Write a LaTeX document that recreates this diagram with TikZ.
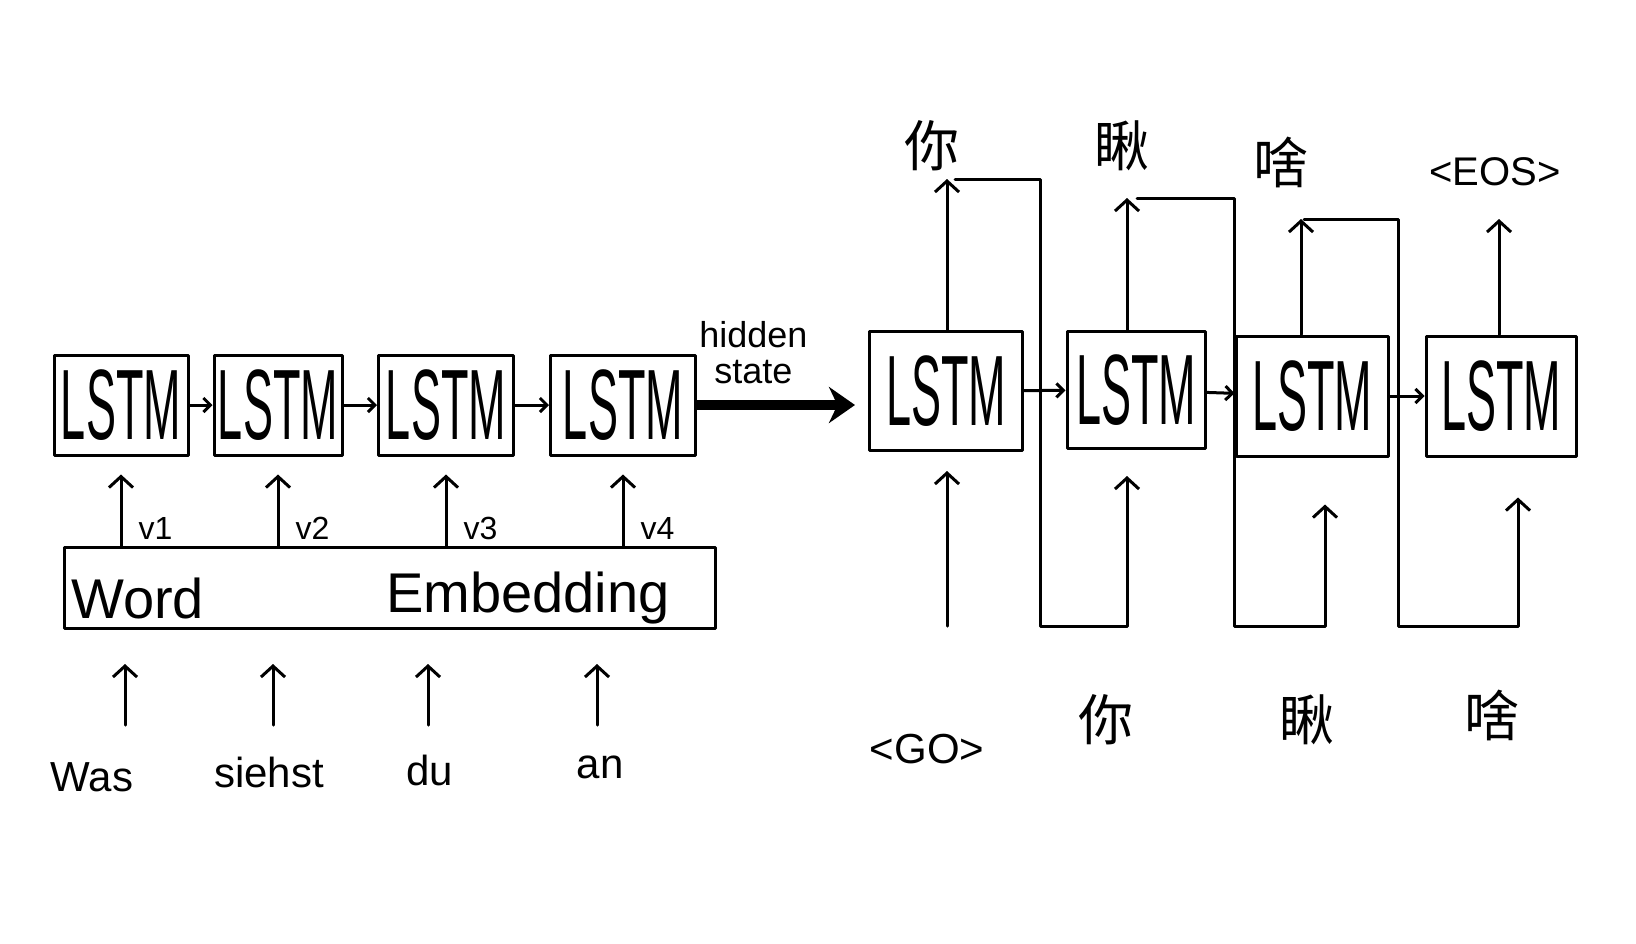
\documentclass[tikz,border=0pt]{standalone}
\usepackage{fontspec}
\setmainfont{Liberation Sans}
\newfontfamily\cjk{Noto Sans CJK SC}
\newfontfamily\narrowfont[FakeStretch=0.45]{Liberation Sans}
\usetikzlibrary{arrows.meta,calc,positioning}

\def\lstmtext{{\fontsize{100}{100}\selectfont\narrowfont LSTM}}

\tikzset{
  stroke/.style={line width=3pt, line cap=round, line join=round},
  lstmbox/.style={stroke, draw, inner sep=0pt, minimum height=100pt},
  upto/.style={stroke, -{Straight Barb[length=11pt,width=24pt]}},
  chain/.style={stroke, -{Straight Barb[length=7pt,width=14pt]}},
  wordlbl/.style={inner sep=0pt, font=\fontsize{42}{42}\selectfont},
  embtxt/.style={inner sep=0pt, font=\fontsize{56}{56}\selectfont},
  vlbl/.style={inner sep=0pt, font=\fontsize{32}{32}\selectfont},
  cjklbl/.style={inner sep=0pt, font=\fontsize{55}{55}\selectfont\cjk},
}

\begin{document}
\begin{tikzpicture}[x=1pt,y=-1pt]
\useasboundingbox (0,0) rectangle (1636,943);

% encoder
\node[lstmbox, minimum width=134pt] (e1) at (121,405) {\lstmtext};
\node[lstmbox, minimum width=128pt] (e2) at (278,405) {\lstmtext};
\node[lstmbox, minimum width=135pt] (e3) at (446,405) {\lstmtext};
\node[lstmbox, minimum width=145pt] (e4) at (623,405) {\lstmtext};
\draw[chain] (e1) -- (e2);
\draw[chain] (e2) -- (e3);
\draw[chain] (e3) -- (e4);

\node[stroke, draw, minimum width=651pt, minimum height=81pt, inner sep=0pt] (emb) at (390,588) {};
\node[embtxt, anchor=west] (word) at ([xshift=8pt,yshift=-10pt]emb.west) {Word};
\node[embtxt, anchor=west] (embed) at (386,598) {Embedding};

\foreach \i in {1,...,4}
  \draw[upto, shorten >=18pt] (e\i.south |- emb.north) -- (e\i.south)
    node[vlbl, pos=0, anchor=south west, xshift=16pt, yshift=5pt] {v\i};

\node[wordlbl] (w1) at (92,777) {Was};
\node[wordlbl] (w2) at (269,772) {siehst};
\node[wordlbl] (w3) at (430,770) {du};
\node[wordlbl] (w4) at (600,767) {an};
\foreach \i/\x in {1/125,2/273,3/428,4/597} {
  \coordinate (in\i) at (\x,725);
  \draw[upto, shorten >=34pt] (in\i) -- (in\i |- emb.south);
}

% decoder
\node[lstmbox, minimum width=153pt, minimum height=119pt] (d1) at (946,391) {\lstmtext};
\node[lstmbox, minimum width=138pt, minimum height=117pt] (d2) at (1136,390) {\lstmtext};
\node[lstmbox, minimum width=152pt, minimum height=120pt] (d3) at (1312,396) {\lstmtext};
\node[lstmbox, minimum width=150pt, minimum height=120pt] (d4) at (1501,396) {\lstmtext};
\draw[chain] (d1) -- (d2);
\draw[chain] (d2) -- (d3);
\draw[chain] (d3) -- (d4);

\draw[line width=10pt, -{Stealth[length=26pt,width=36pt]}, shorten >=13pt]
  (e4.east) -- (e4.east -| d1.west)
  node[pos=0.33, above=16pt, align=center, inner sep=0pt,
       font=\fontsize{36}{36}\selectfont] (hid) {hidden\\state};

\node[cjklbl] (o1) at (932,146) {你};
\node[cjklbl] (o2) at (1122,146) {瞅};
\node[cjklbl] (o3) at (1281,162) {啥};
\node[wordlbl, font=\fontsize{40}{40}\selectfont] (o4) at (1495,172) {<EOS>};

\node[wordlbl] (go) at (927,749) {<GO>};
\node[cjklbl] (i2) at (1106,720) {你};
\node[cjklbl] (i3) at (1307,720) {瞅};
\node[cjklbl] (i4) at (1492,715) {啥};

\foreach \i/\x/\y in {1/947/179,2/1127/198,3/1301/219,4/1499/219} {
  \coordinate (top\i) at (\x,\y);
  \draw[upto] (top\i |- d\i.north) -- (top\i);
}
\foreach \i/\x/\s in {1/947/19,2/1127/26,3/1325/47,4/1518/40} {
  \coordinate (bot\i) at (\x,626);
  \draw[upto, shorten >=\s pt] (bot\i) -- (bot\i |- d\i.south);
}

% feed back
\coordinate (g1) at (1040,0);
\coordinate (g2) at (1234,0);
\coordinate (g3) at (1398,0);
\draw[stroke] ([xshift=8pt]top1) -- (top1 -| g1) -- (g1 |- bot2) -- (bot2);
\draw[stroke] ([xshift=10pt]top2) -- (top2 -| g2) -- (g2 |- bot3) -- (bot3);
\draw[stroke] ([xshift=3pt]top3) -- (top3 -| g3) -- (g3 |- bot4) -- (bot4);
\end{tikzpicture}
\end{document}
